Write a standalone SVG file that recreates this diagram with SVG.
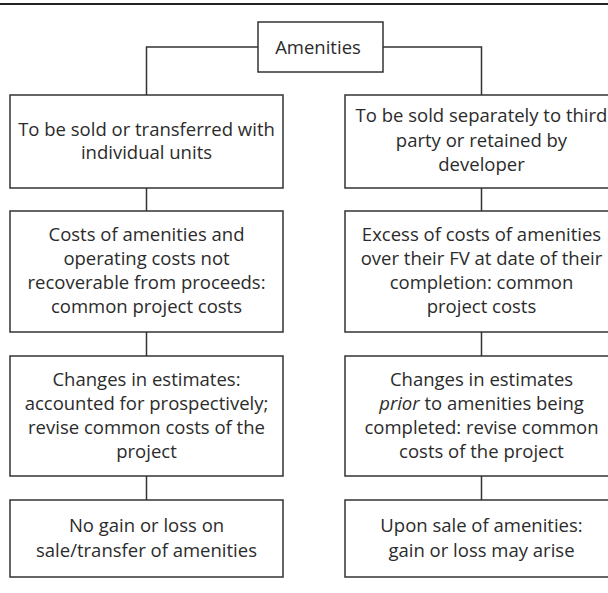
<svg xmlns="http://www.w3.org/2000/svg" width="608" height="593" viewBox="0 0 608 593">
<style>
.box{fill:#fff;stroke:#333;stroke-width:1.5}
.con{fill:none;stroke:#333;stroke-width:1.5}
text{font-family:"Open Sans","Noto Sans",sans-serif;font-size:18.5px;fill:#2b2b2b;text-anchor:middle}
</style>
<rect width="608" height="593" fill="#fff"/>
<line x1="0" y1="4" x2="608" y2="4" stroke="#222" stroke-width="2"/>
<g id="connectors">
<path class="con" d="M258,47 H146.5 V95 M383,47 H481.5 V95"/>
<path class="con" d="M146.5,188 V211 M146.5,332 V356 M146.5,476 V500"/>
<path class="con" d="M481.5,188 V211 M481.5,332 V356 M481.5,476 V500"/>
</g>
<g id="amenities">
<rect class="box" x="258" y="22" width="125" height="50"/>
<text x="318" y="54">Amenities</text>
</g>
<g id="left1">
<rect class="box" x="10" y="95" width="273" height="93"/>
<text x="146.5" y="136">To be sold or transferred with</text>
<text x="146.5" y="159">individual units</text>
</g>
<g id="left2">
<rect class="box" x="10" y="211" width="273" height="121"/>
<text x="146.5" y="241">Costs of amenities and</text>
<text x="146.5" y="265">operating costs not</text>
<text x="146.5" y="289.3">recoverable from proceeds:</text>
<text x="146.5" y="313.3">common project costs</text>
</g>
<g id="left3">
<rect class="box" x="10" y="356" width="273" height="120"/>
<text x="146.5" y="386">Changes in estimates:</text>
<text x="146.5" y="410">accounted for prospectively;</text>
<text x="146.5" y="434">revise common costs of the</text>
<text x="146.5" y="458">project</text>
</g>
<g id="left4">
<rect class="box" x="10" y="500" width="273" height="77"/>
<text x="146.5" y="532.3">No gain or loss on</text>
<text x="146.5" y="556.7">sale/transfer of amenities</text>
</g>
<g id="right1">
<rect class="box" x="345" y="95" width="273" height="93"/>
<text x="481.5" y="122">To be sold separately to third</text>
<text x="481.5" y="146.5">party or retained by</text>
<text x="481.5" y="171">developer</text>
</g>
<g id="right2">
<rect class="box" x="345" y="211" width="273" height="121"/>
<text x="481.5" y="241">Excess of costs of amenities</text>
<text x="481.5" y="265">over their FV at date of their</text>
<text x="481.5" y="289.3">completion: common</text>
<text x="481.5" y="313.3">project costs</text>
</g>
<g id="right3">
<rect class="box" x="345" y="356" width="273" height="120"/>
<text x="481.5" y="386">Changes in estimates</text>
<text x="481.5" y="410"><tspan font-style="italic">prior</tspan> to amenities being</text>
<text x="481.5" y="434">completed: revise common</text>
<text x="481.5" y="458">costs of the project</text>
</g>
<g id="right4">
<rect class="box" x="345" y="500" width="273" height="77"/>
<text x="481.5" y="532.3">Upon sale of amenities:</text>
<text x="481.5" y="556.7">gain or loss may arise</text>
</g>
</svg>
